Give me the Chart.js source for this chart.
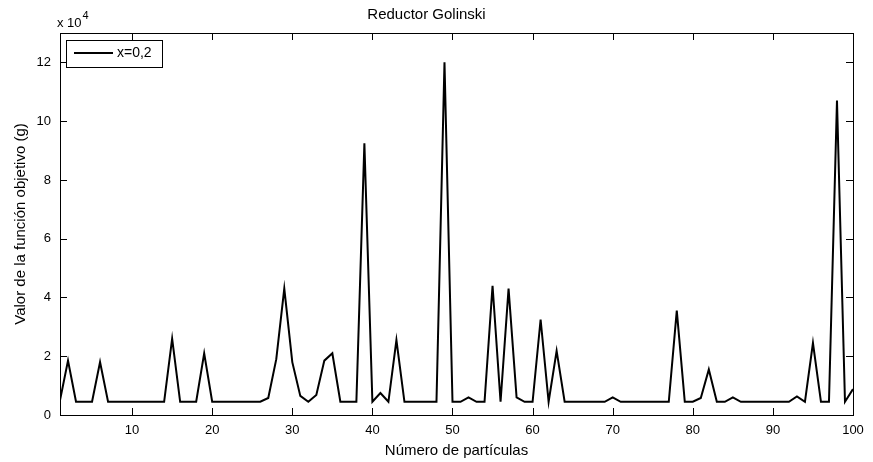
<!DOCTYPE html>
<html>
<head>
<meta charset="utf-8">
<script src="https://cdn.jsdelivr.net/npm/chart.js@4/dist/chart.umd.min.js"></script>
<style>
  body { margin: 0; background: #fff; }
  #wrap { width: 873px; height: 462px; }
</style>
</head>
<body>
<div id="wrap"><canvas id="chart"></canvas></div>
<script>
// particle number 1..100
const particles = [];
for (let i = 1; i <= 100; i++) particles.push(i);

// objective function value (g)
const values = [
  5000, 18500, 4500, 4500, 4500, 18000, 4500, 4500, 4500, 4500,
  4500, 4500, 4500, 4500, 26000, 4500, 4500, 4500, 21000, 4500,
  4500, 4500, 4500, 4500, 4500, 4500, 5800, 19000, 43000, 18000,
  6500, 4500, 6800, 18500, 21000, 4500, 4500, 4500, 92500, 4500,
  7500, 4500, 25500, 4500, 4500, 4500, 4500, 4500, 120000, 4500,
  4500, 6000, 4500, 4500, 44000, 4500, 43000, 6000, 4500, 4500,
  32500, 4500, 21800, 4500, 4500, 4500, 4500, 4500, 4500, 6000,
  4500, 4500, 4500, 4500, 4500, 4500, 4500, 35500, 4500, 4500,
  5800, 15500, 4500, 4500, 6000, 4500, 4500, 4500, 4500, 4500,
  4500, 4500, 6300, 4500, 24500, 4500, 4500, 107000, 4500, 8800
];

const xTicks = [10, 20, 30, 40, 50, 60, 70, 80, 90, 100];
const yTicks = [0, 20000, 40000, 60000, 80000, 100000, 120000];

const fontFam = '"Liberation Sans", Arial, Helvetica, sans-serif';

// box, inward ticks, exponent label and legend like matlab
const matlabAxes = {
  id: 'matlabAxes',
  afterDraw(chart) {
    const ctx = chart.ctx;
    const a = chart.chartArea;
    const xs = chart.scales.x;
    const ys = chart.scales.y;
    const tl = 7;
    ctx.save();
    ctx.strokeStyle = '#000';
    ctx.lineWidth = 1;
    ctx.strokeRect(Math.round(a.left) + 0.5, Math.round(a.top) + 0.5,
      Math.round(a.right - a.left), Math.round(a.bottom - a.top));
    ctx.beginPath();
    xTicks.forEach(v => {
      const px = Math.round(xs.getPixelForValue(v)) + 0.5;
      ctx.moveTo(px, a.bottom); ctx.lineTo(px, a.bottom - tl);
      ctx.moveTo(px, a.top); ctx.lineTo(px, a.top + tl);
    });
    yTicks.forEach(v => {
      const py = Math.round(ys.getPixelForValue(v)) + 0.5;
      ctx.moveTo(a.left, py); ctx.lineTo(a.left + tl, py);
      ctx.moveTo(a.right, py); ctx.lineTo(a.right - tl, py);
    });
    ctx.stroke();

    // x 10^4
    ctx.fillStyle = '#000';
    ctx.textBaseline = 'alphabetic';
    ctx.textAlign = 'left';
    ctx.font = '13px ' + fontFam;
    ctx.fillText('x 10', 57, 27);
    const w = ctx.measureText('x 10').width;
    ctx.font = '11px ' + fontFam;
    ctx.fillText('4', 57 + w + 1, 18.5);

    // legend
    const lx = 66.5, ly = 40.5, lw = 96, lh = 27;
    ctx.fillStyle = '#fff';
    ctx.fillRect(lx, ly, lw, lh);
    ctx.strokeRect(lx, ly, lw, lh);
    ctx.beginPath();
    ctx.lineWidth = 2;
    ctx.moveTo(74, 53); ctx.lineTo(113, 53);
    ctx.stroke();
    ctx.fillStyle = '#000';
    ctx.font = '14px ' + fontFam;
    ctx.textBaseline = 'middle';
    ctx.fillText(chart.data.datasets[0].label, 117, 53);
    ctx.restore();
  }
};

window.onload = function () {
  const ctx = document.getElementById('chart').getContext('2d');
  new Chart(ctx, {
    type: 'line',
    data: {
      labels: particles,
      datasets: [{
        label: 'x=0,2',
        data: particles.map((p, i) => ({ x: p, y: values[i] })),
        borderColor: '#000',
        borderWidth: 2,
        pointRadius: 0,
        tension: 0,
        fill: false
      }]
    },
    options: {
      responsive: true,
      maintainAspectRatio: false,
      animation: false,
      layout: { padding: { left: 0, right: 20, top: 0, bottom: 0 } },
      plugins: {
        legend: { display: false },
        tooltip: { enabled: false },
        title: {
          display: true,
          text: 'Reductor Golinski',
          color: '#000',
          font: { family: fontFam, size: 15, weight: 'normal' },
          padding: { top: 6, bottom: 9 }
        }
      },
      scales: {
        x: {
          type: 'linear',
          min: 1,
          max: 100,
          grid: { display: false, drawTicks: false },
          border: { display: false },
          afterBuildTicks: s => { s.ticks = xTicks.map(v => ({ value: v })); },
          afterFit: s => { s.height = 47; },
          ticks: {
            color: '#000',
            padding: 8,
            maxRotation: 0,
            font: { family: fontFam, size: 13 }
          },
          title: {
            display: true,
            text: 'Número de partículas',
            color: '#000',
            font: { family: fontFam, size: 15 },
            padding: { top: 0, bottom: 2 }
          }
        },
        y: {
          min: 0,
          max: 130000,
          grid: { display: false, drawTicks: false },
          border: { display: false },
          afterBuildTicks: s => { s.ticks = yTicks.map(v => ({ value: v })); },
          afterFit: s => { s.width = 60; },
          ticks: {
            color: '#000',
            padding: 9,
            font: { family: fontFam, size: 13 },
            callback: v => String(v / 10000)
          },
          title: {
            display: true,
            text: 'Valor de la función objetivo (g)',
            color: '#000',
            font: { family: fontFam, size: 15 },
            padding: { top: 12, bottom: 0 }
          }
        }
      }
    },
    plugins: [matlabAxes]
  });
};
</script>
</body>
</html>
